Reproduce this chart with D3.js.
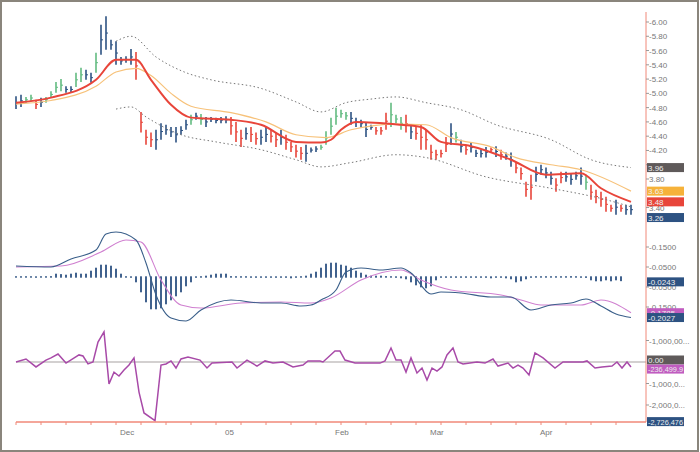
<!DOCTYPE html>
<html><head><meta charset="utf-8">
<script src="https://cdn.jsdelivr.net/npm/d3@7"></script>
<style>body{margin:0;background:#fff}svg{display:block}text{font-family:"Liberation Sans",Arial,sans-serif}</style>
</head><body><svg id="c" width="700" height="452"></svg>
<script>
// ---- data ----
const highs=[4.96,4.98,4.95,4.98,4.91,4.94,4.95,5.03,5.16,5.20,5.10,5.10,5.29,5.36,5.33,5.29,5.57,5.96,6.08,5.75,
5.73,5.51,5.52,5.62,5.58,4.74,4.49,4.45,4.49,4.58,4.56,4.53,4.53,4.54,4.63,4.70,4.73,4.71,4.67,4.67,
4.66,4.67,4.68,4.67,4.60,4.49,4.52,4.53,4.45,4.49,4.53,4.49,4.45,4.49,4.42,4.32,4.28,4.25,4.28,4.24,
4.26,4.28,4.47,4.66,4.80,4.77,4.74,4.74,4.66,4.63,4.60,4.56,4.53,4.53,4.73,4.87,4.70,4.67,4.70,4.56,
4.53,4.56,4.49,4.28,4.21,4.21,4.39,4.58,4.46,4.35,4.28,4.31,4.21,4.21,4.25,4.24,4.26,4.21,4.17,4.17,
4.03,3.96,3.76,3.86,3.97,4.00,3.96,3.90,3.81,3.90,3.90,3.87,3.90,3.96,3.86,3.72,3.65,3.62,3.55,3.44,
3.51,3.44,3.44,3.44];
const lows=[4.78,4.81,4.87,4.89,4.78,4.81,4.87,4.94,5.01,5.03,5.01,5.01,5.09,5.16,5.19,5.15,5.29,5.54,5.61,5.61,
5.40,5.40,5.43,5.40,5.19,4.45,4.28,4.25,4.21,4.35,4.42,4.39,4.31,4.42,4.49,4.56,4.63,4.56,4.53,4.60,
4.58,4.58,4.58,4.42,4.32,4.25,4.35,4.32,4.28,4.28,4.32,4.31,4.25,4.28,4.21,4.18,4.10,4.07,4.04,4.17,
4.18,4.21,4.28,4.42,4.56,4.66,4.63,4.56,4.53,4.52,4.39,4.49,4.42,4.42,4.49,4.53,4.58,4.49,4.45,4.36,
4.35,4.21,4.21,4.07,4.07,4.10,4.18,4.28,4.31,4.17,4.14,4.17,4.11,4.10,4.10,4.18,4.11,4.07,4.07,3.97,
3.88,3.79,3.55,3.51,3.76,3.86,3.81,3.72,3.62,3.74,3.76,3.72,3.79,3.72,3.65,3.51,3.46,3.41,3.34,3.34,
3.30,3.34,3.30,3.30];
const barColor="bbggrbggggbbggbbgbbbbbbbrrrrbbbbbbbgbgbbbbbrrrbrrbbrrbrrrrbbbggggggbbbbbrrrgggrbrrrrrrrbgbrbbbbrbrbbrrrrbbbbrrbbbbgrrrrrbrbbr".split("");
const maFast=[[0,4.87],[7,4.94],[16,5.19],[20,5.47],[24,5.47],[27,5.19],[31,4.84],[35,4.66],[43,4.63],[49,4.56],[56,4.32],[61,4.31],[63,4.35],[65,4.49],[68,4.60],[77,4.56],[81,4.53],[85,4.32],[91,4.26],[99,4.07],[106,3.86],[113,3.88],[117,3.67],[123,3.48]];
const maSlow=[[0,4.85],[7,4.90],[16,5.10],[20,5.30],[24,5.35],[27,5.25],[31,5.00],[35,4.82],[43,4.73],[50,4.60],[56,4.42],[62,4.38],[67,4.49],[76,4.57],[82,4.56],[87,4.38],[95,4.25],[100,4.10],[107,4.00],[113,3.93],[123,3.63]];
const bandUp=[[20,5.73],[23,5.80],[28,5.51],[34,5.29],[39,5.19],[49,5.07],[56,4.88],[61,4.74],[66,4.87],[71,4.92],[76,4.95],[82,4.87],[89,4.77],[96,4.56],[107,4.35],[115,4.07],[123,3.96]];
const bandLo=[[20,4.78],[23,4.81],[26,4.67],[33,4.42],[40,4.32],[49,4.21],[56,4.07],[61,3.97],[67,4.03],[76,4.14],[82,4.10],[94,3.83],[107,3.67],[118,3.51],[123,3.41]];
const macdLine=[[0,0.055],[7,0.05],[11,0.09],[16,0.135],[18,0.215],[20,0.225],[24,0.185],[26,0.07],[28,-0.09],[31,-0.205],[34,-0.22],[37,-0.165],[43,-0.115],[49,-0.13],[53,-0.13],[57,-0.145],[59,-0.14],[61,-0.115],[64,-0.065],[66,0.025],[69,0.045],[73,0.035],[77,0.045],[79,0.02],[83,-0.085],[85,-0.075],[89,-0.08],[95,-0.1],[99,-0.1],[103,-0.165],[107,-0.14],[111,-0.13],[114,-0.11],[117,-0.145],[120,-0.185],[123,-0.2027]];
const signalLine=[[0,0.05],[9,0.055],[17,0.125],[22,0.185],[25,0.175],[29,-0.015],[33,-0.14],[37,-0.155],[45,-0.13],[53,-0.125],[59,-0.13],[63,-0.105],[69,-0.015],[77,0.035],[81,-0.015],[87,-0.065],[97,-0.09],[101,-0.115],[105,-0.14],[113,-0.14],[117,-0.115],[123,-0.1785]];
const hist=[0.003,0.003,0.003,0.003,-0.003,0.003,0.005,0.008,
0.02,0.018,0.015,0.02,0.025,0.02,0.02,0.035,0.05,
0.065,0.065,0.06,0.045,0.02,0.005,-0.005,
-0.03,-0.08,-0.13,-0.165,-0.165,-0.16,-0.14,-0.12,-0.1,-0.08,-0.05,-0.03,-0.005,0.003,
0.01,0.015,0.02,0.02,0.02,0.008,
0.003,0.003,0.003,-0.003,-0.005,-0.003,-0.003,-0.003,-0.003,-0.005,-0.005,-0.01,-0.005,
0.003,0.01,0.02,0.03,
0.05,0.07,0.075,0.075,0.065,0.06,0.05,0.035,
0.025,0.015,0.01,0.01,0.01,0.008,0.003,-0.003,
-0.01,-0.015,-0.03,-0.045,-0.055,-0.06,-0.05,-0.02,
-0.005,-0.005,-0.005,-0.005,-0.005,-0.005,-0.005,-0.005,-0.005,-0.005,-0.01,-0.005,-0.005,-0.01,-0.015,
-0.03,-0.025,-0.015,-0.005,0.003,
0.003,0.003,0.003,0.003,0.003,0.006,0.008,0.004,-0.003,-0.008,
-0.02,-0.025,-0.025,-0.02,-0.025,-0.02,-0.0243];
const osc=[[0,0],[2,0.14],[4,-0.23],[6,0.09],[7,0.19],[8.4,0.37],[10,-0.05],[12.6,0.33],[13.4,0.28],[14.4,-0.09],[15.4,0],[16.4,0.93],[17.6,1.40],[18.6,-1.02],[19.6,-0.47],[20.6,-0.65],[21.6,-0.37],[22.6,-0.14],[23.6,0.19],[24.6,-1.40],[25.6,-2.37],[27.8,-2.726],[29,-0.14],[30,-0.09],[31,0.05],[32,-0.28],[33,0.14],[34.4,0.23],[36.8,0.09],[38.2,-0.28],[39.2,-0.05],[43.2,0],[44.2,-0.28],[46.2,0.09],[48.2,-0.19],[49.8,0.05],[51.4,-0.05],[53.4,0],[55.4,-0.23],[57.4,-0.14],[58.4,0.05],[60.8,0.05],[61.4,0],[63.8,0.51],[64.8,0.51],[65.8,0.09],[67.8,-0.05],[72.8,-0.05],[73.8,0.05],[75,0.65],[76,0.09],[77,0.09],[78,-0.47],[79,0.19],[80.2,-0.51],[81.2,-0.28],[82.2,-0.84],[83.2,-0.28],[84.2,-0.42],[85.2,-0.23],[86.2,0.33],[87.4,0.65],[88.4,0],[89.4,-0.09],[92.2,0],[93.8,-0.05],[95.4,0.14],[96.4,-0.19],[98.4,-0.05],[99.4,-0.28],[100.4,-0.14],[101.4,-0.28],[102.6,-0.60],[103.8,0.42],[105.4,0.19],[107.8,-0.28],[109.4,0],[113.4,0],[114.2,0.05],[115.8,-0.28],[117.2,-0.23],[119.2,-0.19],[120.2,0],[121.2,-0.28],[122.2,0],[123,-0.2365]];
const priceTicks=[6.0,5.8,5.6,5.4,5.2,5.0,4.8,4.6,4.4,4.2,4.0,3.8,3.4];
const macdTicks=[0.15,0.05,-0.05,-0.15];
const oscTicks=[[1,"1,000,00..."],[-1,"-1,000,0..."],[-2,"-2,000,0..."]];
const monthLabels=[[22,"Dec"],[43,"05"],[65,"Feb"],[84,"Mar"],[106,"Apr"]];
const priceFlags=[[3.96,"3.96","#5f5a5a"],[3.63,"3.63","#f6b23a"],[3.48,"3.48","#e8453a"],[3.26,"3.26","#2d5282"]];
const macdFlags=[[-0.0243,"-0.0243","#2d5282"],[-0.1785,"-0.1785","#c05cc0"],[-0.2027,"-0.2027","#2d5282"]];
const oscFlags=[[0,"0.00","#5f5a5a"],[-0.2365,"-236,499.9","#c05cc0"],[-2.726,"-2,726,476","#2d5282"]];

// ---- drawing ----
const svg=d3.select("#c");
const axX=646;
const x=d3.scaleLinear().domain([0,123]).range([16,631]);
const yP=d3.scaleLinear().domain([3.8,6.0]).range([179,22]);
const yM=d3.scaleLinear().domain([-0.15,0.15]).range([307,247]);
const yO=d3.scaleLinear().domain([-2,1]).range([405,340.5]);
const col={g:"#62bb80",b:"#2d5282",r:"#e8453a"};

svg.append("rect").attr("x",1).attr("y",1).attr("width",697).attr("height",450).attr("fill","none").attr("stroke","#8a857c").attr("stroke-width",2);

const gb=svg.append("g");
highs.forEach((h,i)=>{
  gb.append("line").attr("x1",x(i)).attr("x2",x(i)).attr("y1",yP(h)).attr("y2",yP(lows[i]))
    .attr("stroke",col[barColor[i]]).attr("stroke-width",1.6);
  const m=(h+lows[i])/2;
  gb.append("line").attr("x1",x(i)).attr("x2",x(i)+2).attr("y1",yP(m)).attr("y2",yP(m)).attr("stroke",col[barColor[i]]).attr("stroke-width",1);
});
const lineP=d3.line().x(d=>x(d[0])).y(d=>yP(d[1])).curve(d3.curveMonotoneX);
svg.append("path").attr("d",lineP(bandUp)).attr("fill","none").attr("stroke","#777").attr("stroke-dasharray","1.5,2.5");
svg.append("path").attr("d",lineP(bandLo)).attr("fill","none").attr("stroke","#777").attr("stroke-dasharray","1.5,2.5");
svg.append("path").attr("d",lineP(maSlow)).attr("fill","none").attr("stroke","#f7c27a").attr("stroke-width",1.2);
svg.append("path").attr("d",lineP(maFast)).attr("fill","none").attr("stroke","#e8453a").attr("stroke-width",2);

hist.forEach((v,i)=>{
  const y0=yM(0),y1=yM(v);
  const h=Math.max(1.5,Math.abs(y1-y0));
  svg.append("rect").attr("x",x(i)-0.9).attr("width",1.8).attr("y",v>=0?y0-h+0.7:y0-0.7).attr("height",h).attr("fill","#2d5282");
});
const lineM=d3.line().x(d=>x(d[0])).y(d=>yM(d[1])).curve(d3.curveMonotoneX);
svg.append("path").attr("d",lineM(signalLine)).attr("fill","none").attr("stroke","#d080d0").attr("stroke-width",1.1);
svg.append("path").attr("d",lineM(macdLine)).attr("fill","none").attr("stroke","#3a5f8a").attr("stroke-width",1.1);

svg.append("line").attr("x1",16).attr("x2",axX).attr("y1",yO(0)).attr("y2",yO(0)).attr("stroke","#c4c0c0").attr("stroke-width",1.5);
const lineO=d3.line().x(d=>x(d[0])).y(d=>yO(d[1]));
svg.append("path").attr("d",lineO(osc)).attr("fill","none").attr("stroke","#a84aa8").attr("stroke-width",1.5);

svg.append("line").attr("x1",axX).attr("x2",axX).attr("y1",12).attr("y2",422).attr("stroke","#f08878");
svg.append("line").attr("x1",16).attr("x2",axX).attr("y1",422).attr("y2",422).attr("stroke","#f08878").attr("stroke-width",1.5);
for(let i=0;i<=123;i+=5){svg.append("line").attr("x1",x(i)).attr("x2",x(i)).attr("y1",422).attr("y2",425).attr("stroke","#f08878");}
monthLabels.forEach(([i,t])=>svg.append("text").attr("x",x(i)-6).attr("y",435).attr("font-size",8).attr("fill","#777").text(t));
const tick=(y,t)=>{svg.append("line").attr("x1",axX).attr("x2",axX+3).attr("y1",y).attr("y2",y).attr("stroke","#999");
  svg.append("text").attr("x",axX+3).attr("y",y+3).attr("font-size",8).attr("fill","#777").text(t);};
priceTicks.forEach(p=>tick(yP(p),(p<4?"":"-")+p.toFixed(2)));
macdTicks.forEach(v=>tick(yM(v),(v>0?"-":"")+v.toFixed(4)));
oscTicks.forEach(([v,t])=>tick(yO(v),(v>0?"-":"")+t));
const flag=(y,t,c)=>{svg.append("rect").attr("x",axX+1).attr("y",y-4.5).attr("width",37).attr("height",9).attr("fill",c);
  const tx=svg.append("text").attr("x",axX+2).attr("y",y+3).attr("font-size",8).attr("fill","#eee").text(t);
  if(t.length>7) tx.attr("textLength",35).attr("lengthAdjust","spacingAndGlyphs");};
priceFlags.forEach(([v,t,c])=>flag(yP(v),t,c));
macdFlags.forEach(([v,t,c])=>flag(yM(v),t,c));
oscFlags.forEach(([v,t,c])=>flag(yO(v)+(v===0?-2:v<-2?1:2),t,c));
</script></body></html>
